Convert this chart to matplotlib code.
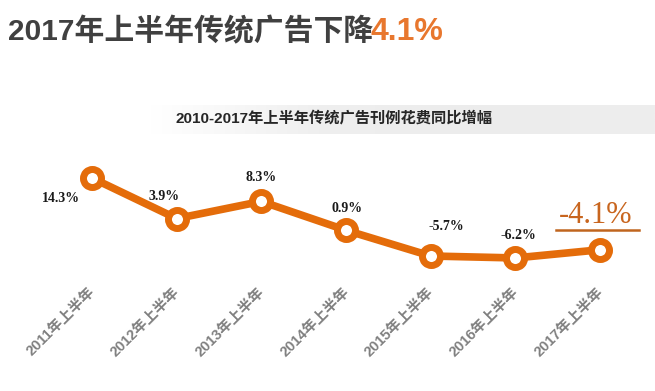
import matplotlib.pyplot as plt
import matplotlib.transforms as mtransforms
from matplotlib.colors import LinearSegmentedColormap
import numpy as np

years = ['2011年上半年', '2012年上半年', '2013年上半年', '2014年上半年',
         '2015年上半年', '2016年上半年', '2017年上半年']
growth = [14.3, 3.9, 8.3, 0.9, -5.7, -6.2, -4.1]
labels = ['14.3%', '3.9%', '8.3%', '0.9%', '-5.7%', '-6.2%', '-4.1%']
# label offsets in points (dx, dy)
offsets = [(-22, -15), (-9, 16), (0, 17), (1, 16), (11, 21), (2, 16)]

cjk = ['Liberation Sans', 'Noto Sans CJK SC']
orange = '#E46C0A'

fig = plt.figure(figsize=(6.55, 3.91), dpi=100)
fig.patch.set_facecolor('white')

# gray band behind subtitle
band = fig.add_axes([150 / 655, 1 - 134 / 391, 505 / 655, 29 / 391])
grad = np.linspace(0, 1, 256).reshape(1, -1)
cmap = LinearSegmentedColormap.from_list('g', ['#ffffff', '#efefef', '#ececec', '#eeeeee'])
band.imshow(grad, aspect='auto', cmap=cmap, extent=[0, 1, 0, 1])
band.axis('off')

t1 = fig.text(8 / 655, 1 - 32 / 391, '2017年上半年传统广告下降', family=cjk, fontsize=21.5,
              fontweight='bold', color='#404040', va='center', ha='left')
fig.canvas.draw()
bb = t1.get_window_extent()
fig.text((bb.x1 - 3) / fig.bbox.width, 1 - 32 / 391, '4.1%', family=cjk, fontsize=23,
         fontweight='bold', color='#E8772E', va='center', ha='left')
fig.text(334 / 655, 1 - 118 / 391, '2010-2017年上半年传统广告刊例花费同比增幅', family=cjk,
         fontsize=11, fontweight='bold', color='#262626', va='center', ha='center')

ax = fig.add_axes([50 / 655, (391 - 275) / 391, 590 / 655, 110 / 391])
x = np.arange(len(years))
ax.plot(x, growth, color=orange, lw=5.5, marker='o', ms=13, mfc='white',
        mec=orange, mew=5, solid_capstyle='round', zorder=3)
ax.set_xlim(-0.496, 6.472)
ax.set_ylim(-10.57, 17.63)

for i in range(6):
    ax.annotate(labels[i], (x[i], growth[i]), xytext=offsets[i], textcoords='offset points',
                ha='center', va='center', family='Liberation Serif', fontweight='bold',
                fontsize=10, color='#1a1a1a')
ax.annotate(labels[6], (x[6], growth[6]), xytext=(-3, 25), textcoords='offset points',
            ha='center', va='center', family='Liberation Serif', fontsize=22, color='#C8651E')
fig.add_artist(plt.Line2D([556 / 655, 639 / 655], [1 - 230 / 391, 1 - 230 / 391],
                          color='#C0651E', lw=1.8))

ax.set_xticks(x)
ax.tick_params(axis='x', length=0, pad=7)
ax.set_xticklabels(years, rotation=45, ha='right', va='top', rotation_mode='anchor',
                   family=cjk, fontsize=10.5, fontweight='bold', color='#808080')
shift = mtransforms.ScaledTranslation(-0.04, 0, fig.dpi_scale_trans)
for t in ax.get_xticklabels():
    t.set_transform(t.get_transform() + shift)
ax.set_yticks([])
for s in ax.spines.values():
    s.set_visible(False)
ax.patch.set_alpha(0)

fig.savefig('out.png', dpi=100)
